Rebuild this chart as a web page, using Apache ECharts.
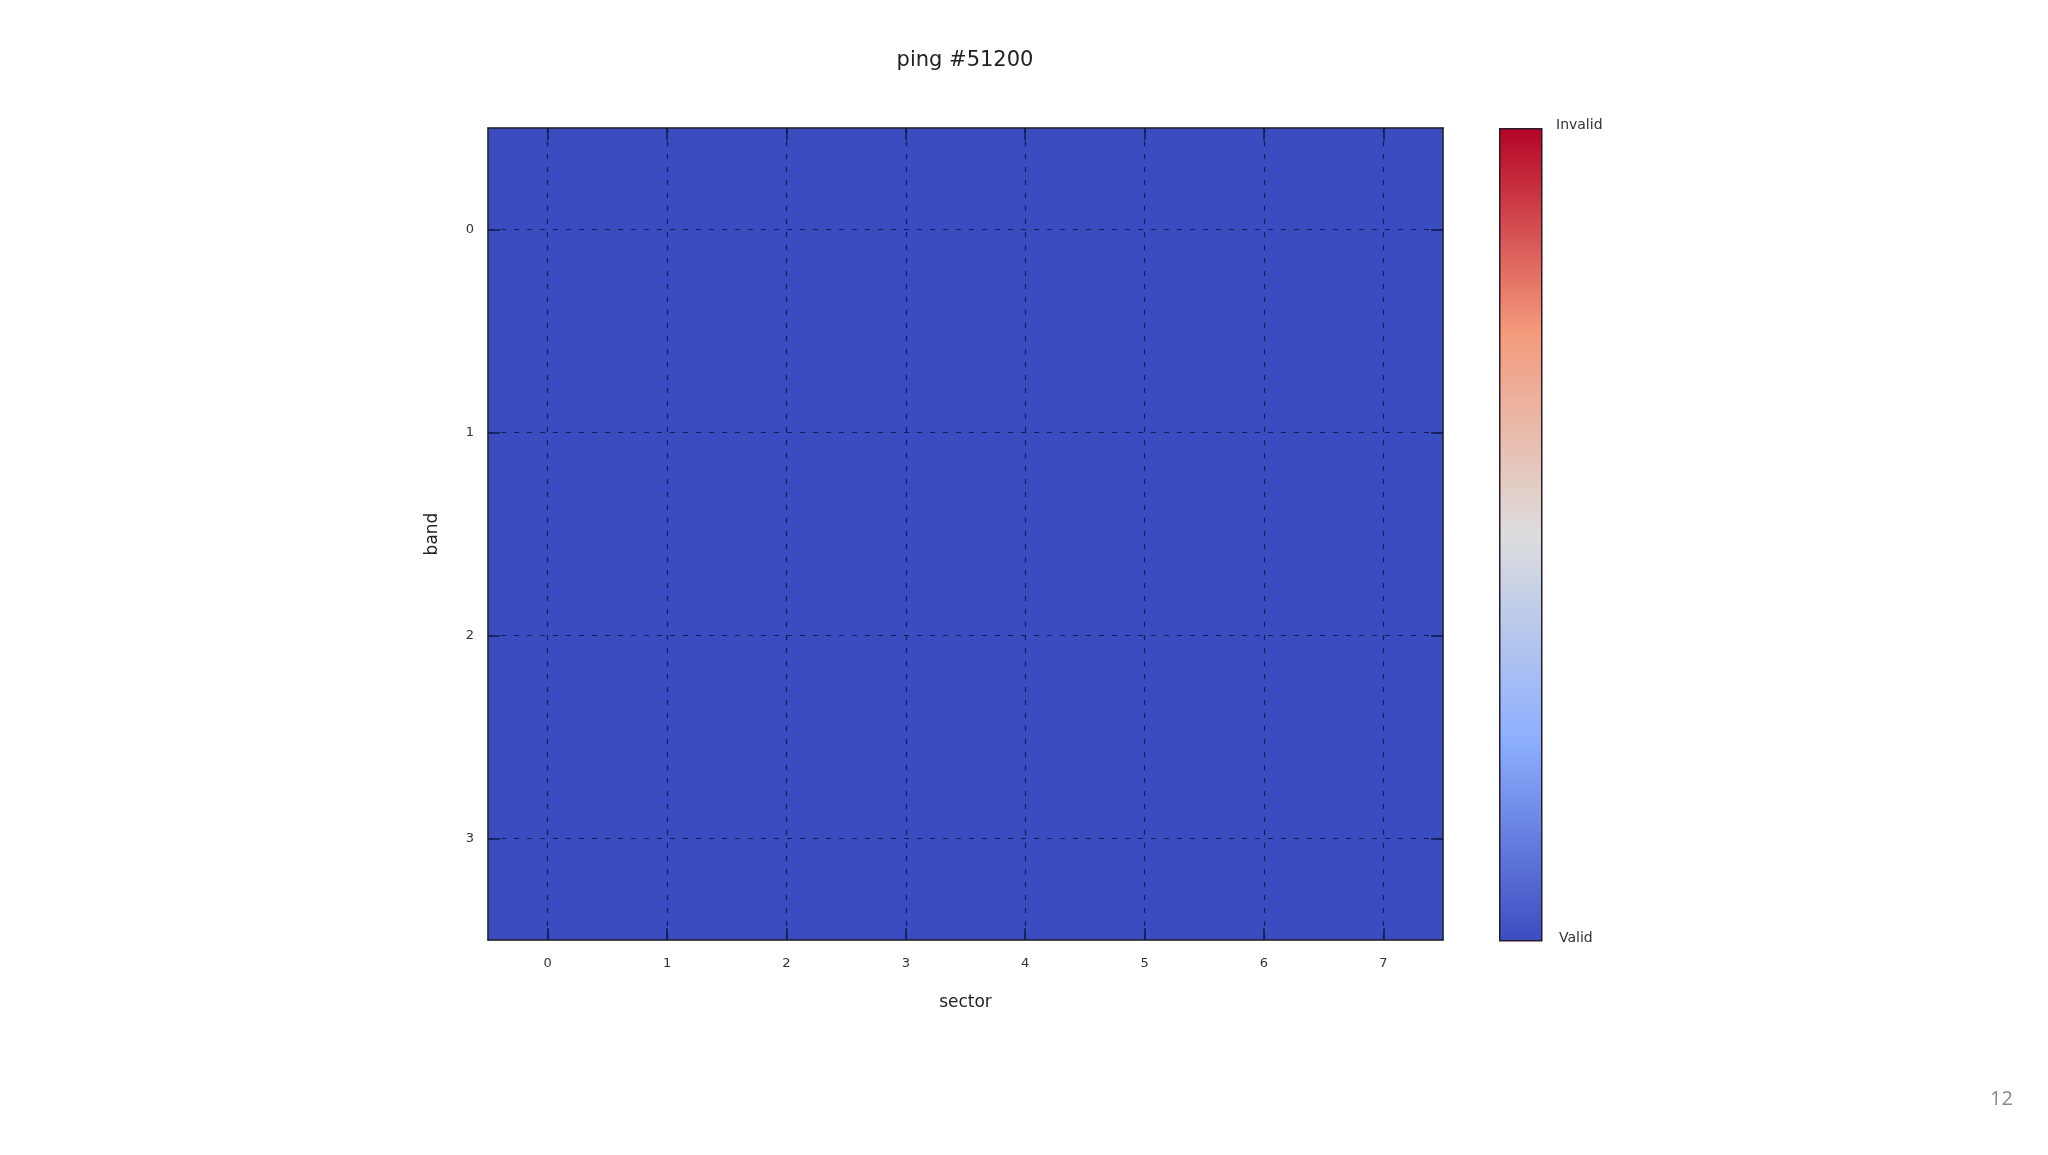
<!DOCTYPE html>
<html>
<head>
<meta charset="utf-8">
<script src="https://cdn.jsdelivr.net/npm/echarts@6/dist/echarts.min.js"></script>
<style>html,body{margin:0;padding:0;background:#fff;}#c{width:2048px;height:1155px;}</style>
</head>
<body>
<div id="c"></div>
<script>
const titleText = 'ping #51200';
const sectors = ['0','1','2','3','4','5','6','7'];
const bands = ['0','1','2','3'];
// 0 = Valid, 1 = Invalid
const band0 = [0,0,0,0,0,0,0,0];
const band1 = [0,0,0,0,0,0,0,0];
const band2 = [0,0,0,0,0,0,0,0];
const band3 = [0,0,0,0,0,0,0,0];
const colorbarLabels = ['Invalid','Valid'];
const coolwarm = ['#3b4cc0','#8db0fe','#dddddd','#f49a7b','#b40426'];

const rows = [band0, band1, band2, band3];
const data = [];
rows.forEach((r, bi) => r.forEach((v, si) => data.push([si, bi, v])));

const FONT = 'DejaVu Sans';
const GL = 488, GT = 128, GW = 955, GH = 812;
const CBL = 1499, CBW = 42;
const tickStyle = {color:'#101850', width:1.5};
const splitStyle = {color:'#141c55', width:1.2, type:[5,8]};

// colorbar gradient (top = max = Invalid)
const stops = coolwarm.map((c, i) => ({offset: 1 - i / (coolwarm.length - 1), color: c}));
stops.reverse();

const chart = echarts.init(document.getElementById('c'), null, {renderer:'canvas'});
chart.setOption({
  backgroundColor:'#ffffff',
  animation:false,
  title:{text:titleText, left:960, top:45, textAlign:'center',
    textStyle:{fontFamily:FONT, fontSize:21, fontWeight:'normal', color:'#222'}},
  grid:{left:GL, top:GT, width:GW, height:GH, show:true, backgroundColor:coolwarm[0], borderWidth:0},
  xAxis:[{
    type:'category', data:sectors, position:'bottom',
    name:'sector', nameLocation:'middle', nameGap:54,
    nameTextStyle:{fontFamily:FONT, fontSize:17, color:'#222'},
    axisLine:{show:true, lineStyle:{color:'#222', width:1.5}},
    axisTick:{show:true, inside:true, alignWithLabel:true, length:12, lineStyle:tickStyle},
    axisLabel:{fontFamily:FONT, fontSize:13, color:'#333', margin:17},
    splitLine:{show:true, alignWithLabel:true, lineStyle:splitStyle},
    z:10
  },{
    type:'category', data:sectors, position:'top',
    axisLine:{show:true, lineStyle:{color:'#222', width:1.5}},
    axisTick:{show:true, inside:true, alignWithLabel:true, length:12, lineStyle:tickStyle},
    axisLabel:{show:false}, splitLine:{show:false}, z:10
  }],
  yAxis:[{
    type:'category', data:bands, inverse:true, position:'left',
    name:'band', nameLocation:'middle', nameGap:47,
    nameTextStyle:{fontFamily:FONT, fontSize:17, color:'#222'},
    axisLine:{show:true, lineStyle:{color:'#222', width:1.5}},
    axisTick:{show:true, inside:true, alignWithLabel:true, length:12, lineStyle:tickStyle},
    axisLabel:{fontFamily:FONT, fontSize:13, color:'#333', margin:14},
    splitLine:{show:true, alignWithLabel:true, lineStyle:splitStyle},
    z:10
  },{
    type:'category', data:bands, inverse:true, position:'right',
    axisLine:{show:true, lineStyle:{color:'#222', width:1.5}},
    axisTick:{show:true, inside:true, alignWithLabel:true, length:12, lineStyle:tickStyle},
    axisLabel:{show:false}, splitLine:{show:false}, z:10
  }],
  visualMap:{
    type:'continuous', min:0, max:1, show:false,
    inRange:{color:coolwarm}
  },
  graphic:[
    {type:'rect', left:CBL, top:GT, z:100, shape:{width:CBW, height:GH},
      style:{fill:{type:'linear', x:0, y:0, x2:0, y2:1, colorStops:stops},
        stroke:'#2a1a2a', lineWidth:1.5}},
    {type:'text', left:1556, top:118, z:100,
      style:{text:colorbarLabels[0], fontFamily:FONT, fontSize:14, fill:'#333'}},
    {type:'text', left:1559, top:931, z:100,
      style:{text:colorbarLabels[1], fontFamily:FONT, fontSize:14, fill:'#333'}},
    {type:'text', left:1990, top:1089, z:100,
      style:{text:'12', fontFamily:'Open Sans', fontSize:20, fill:'#8a8a8a'}}
  ],
  series:[{
    type:'heatmap', xAxisIndex:0, yAxisIndex:0, data:data,
    itemStyle:{borderWidth:0}, emphasis:{disabled:true}, z:1
  }]
});
</script>
</body>
</html>
